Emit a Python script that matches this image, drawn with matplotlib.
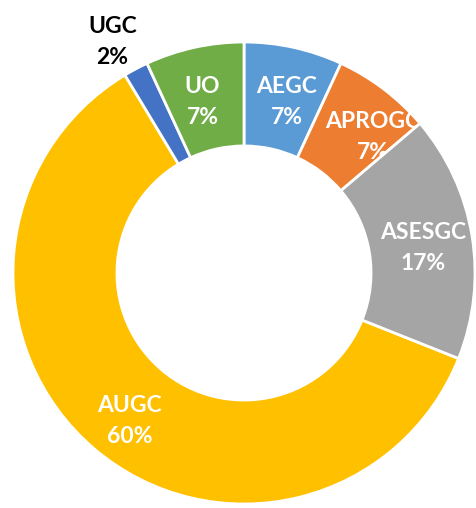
import matplotlib
matplotlib.use("Agg")
import matplotlib.pyplot as plt
import numpy as np

categories = ["AEGC", "APROGC", "ASESGC", "AUGC", "UGC", "UO"]
values = [4, 4, 10, 35, 1, 4]
colors = ["#5B9BD5", "#ED7D31", "#A5A5A5", "#FFC000", "#4472C4", "#70AD47"]
label_colors = ["white", "white", "white", "white", "black", "white"]
label_radius = [0.775, 0.80, 0.775, 0.775, 1.13, 0.775]
label_shift = [(0.017, -0.017), (0.074, -0.048), (0.01, -0.017), (0.007, -0.05), (-0.04, 0.0), (-0.013, -0.017)]

plt.rcParams['font.family'] = ['Lato', 'DejaVu Sans']
fig = plt.figure(figsize=(4.77, 5.08), dpi=100)
ax = fig.add_axes([0, 0, 1, 1])
wedges, _ = ax.pie(values, colors=colors, startangle=90, counterclock=False,
                   radius=1.0,
                   wedgeprops=dict(width=0.45, edgecolor="white", linewidth=2))
# the ASESGC wedge is drawn over the APROGC label, as in the original
wedges[2].set_zorder(4)
total = sum(values)
for i, (w, cat, v, c, r, (dx, dy)) in enumerate(zip(wedges, categories, values, label_colors, label_radius, label_shift)):
    ang = np.deg2rad((w.theta1 + w.theta2) / 2)
    x = r * np.cos(ang) + dx
    y = r * np.sin(ang) + dy
    pct = round(100 * v / total)
    ax.text(x, y, f"{cat}\n{pct}%", ha="center", va="center", color=c,
            fontsize=16.5, fontweight="bold", linespacing=1.6,
            zorder=3 if i == 1 else 5)

cx, cy, R = 244, 273, 231
ax.set_xlim(-cx / R, (477 - cx) / R)
ax.set_ylim(-(508 - cy) / R, cy / R)
ax.set_aspect("equal")
ax.axis("off")
fig.savefig("out.png", dpi=100)
